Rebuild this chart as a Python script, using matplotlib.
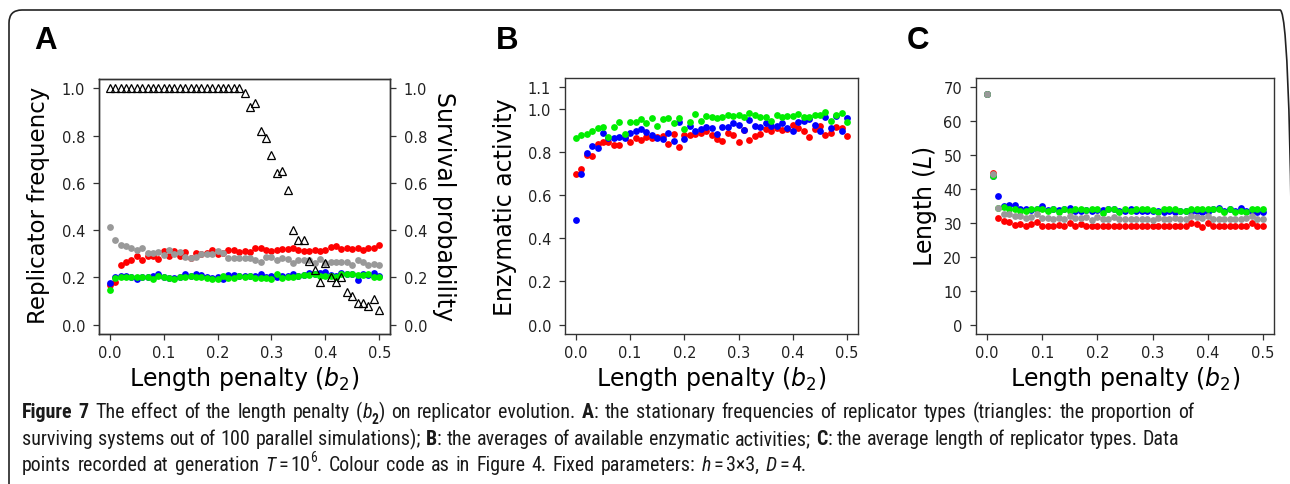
import re
import numpy as np
import matplotlib
matplotlib.use("Agg")
import matplotlib.pyplot as plt
from matplotlib import font_manager
from matplotlib.patches import FancyBboxPatch
from matplotlib.transforms import IdentityTransform
from matplotlib.font_manager import FontProperties

# ---------------- data ----------------
b2 = np.round(np.arange(51) * 0.01, 2)
xticks = [0.0, 0.1, 0.2, 0.3, 0.4, 0.5]

# Panel A: replicator frequencies
A_gray = [0.413, 0.358, 0.338, 0.331, 0.324, 0.316, 0.324, 0.304, 0.304, 0.307,
          0.293, 0.316, 0.300, 0.307, 0.286, 0.283, 0.288, 0.297, 0.297, 0.300,
          0.310, 0.302, 0.283, 0.283, 0.283, 0.283, 0.280, 0.275, 0.267, 0.286,
          0.288, 0.272, 0.282, 0.279, 0.259, 0.272, 0.272, 0.272, 0.262, 0.276,
          0.262, 0.264, 0.264, 0.264, 0.265, 0.251, 0.273, 0.265, 0.251, 0.255,
          0.254]
A_red = [0.168, 0.179, 0.254, 0.264, 0.275, 0.289, 0.275, 0.289, 0.292, 0.278,
         0.311, 0.290, 0.311, 0.289, 0.306, 0.283, 0.303, 0.297, 0.303, 0.316,
         0.297, 0.303, 0.316, 0.316, 0.306, 0.310, 0.308, 0.326, 0.326, 0.316,
         0.313, 0.316, 0.321, 0.319, 0.324, 0.316, 0.310, 0.310, 0.316, 0.310,
         0.316, 0.330, 0.333, 0.320, 0.324, 0.321, 0.326, 0.316, 0.323, 0.323,
         0.335]
A_blue = [0.178, 0.203, 0.207, 0.207, 0.202, 0.191, 0.202, 0.203, 0.207, 0.213,
          0.202, 0.196, 0.196, 0.200, 0.213, 0.207, 0.213, 0.209, 0.202, 0.196,
          0.200, 0.193, 0.209, 0.209, 0.207, 0.206, 0.206, 0.207, 0.213, 0.203,
          0.207, 0.202, 0.206, 0.207, 0.213, 0.207, 0.209, 0.219, 0.213, 0.219,
          0.224, 0.209, 0.206, 0.217, 0.213, 0.216, 0.189, 0.213, 0.209, 0.219,
          0.207]
A_green = [0.146, 0.196, 0.200, 0.200, 0.202, 0.200, 0.202, 0.202, 0.193, 0.206,
           0.200, 0.196, 0.193, 0.200, 0.200, 0.206, 0.203, 0.200, 0.196, 0.191,
           0.191, 0.206, 0.196, 0.196, 0.206, 0.200, 0.206, 0.196, 0.196, 0.196,
           0.193, 0.213, 0.196, 0.202, 0.202, 0.206, 0.209, 0.209, 0.213, 0.206,
           0.206, 0.206, 0.202, 0.213, 0.213, 0.216, 0.209, 0.209, 0.213, 0.202,
           0.203]
A_survival = [1.0] * 25 + [0.98, 0.92, 0.94, 0.82, 0.79, 0.72, 0.64, 0.65, 0.57,
                           0.40, 0.36, 0.36, 0.27, 0.23, 0.18, 0.26, 0.20, 0.18,
                           0.20, 0.14, 0.12, 0.09, 0.09, 0.08, 0.11, 0.06]

# Panel B: enzymatic activity
B_green = [0.867, 0.879, 0.884, 0.898, 0.910, 0.915, 0.868, 0.916, 0.940, 0.882,
           0.938, 0.938, 0.953, 0.936, 0.957, 0.921, 0.955, 0.960, 0.936, 0.958,
           0.909, 0.940, 0.977, 0.943, 0.967, 0.962, 0.957, 0.964, 0.972, 0.967,
           0.974, 0.963, 0.981, 0.971, 0.963, 0.964, 0.943, 0.974, 0.964, 0.967,
           0.969, 0.975, 0.964, 0.961, 0.974, 0.971, 0.984, 0.946, 0.972, 0.983,
           0.940]
B_blue = [0.485, 0.698, 0.797, 0.829, 0.819, 0.891, 0.864, 0.865, 0.870, 0.865,
          0.887, 0.896, 0.907, 0.895, 0.879, 0.864, 0.859, 0.887, 0.853, 0.938,
          0.860, 0.921, 0.896, 0.907, 0.915, 0.910, 0.884, 0.915, 0.915, 0.935,
          0.924, 0.905, 0.949, 0.921, 0.915, 0.933, 0.922, 0.919, 0.936, 0.910,
          0.899, 0.941, 0.944, 0.955, 0.926, 0.898, 0.964, 0.910, 0.967, 0.898,
          0.960]
B_red = [0.699, 0.721, 0.786, 0.781, 0.837, 0.848, 0.848, 0.833, 0.833, 0.871,
         0.848, 0.867, 0.854, 0.868, 0.865, 0.871, 0.877, 0.840, 0.882, 0.822,
         0.881, 0.879, 0.884, 0.888, 0.898, 0.880, 0.860, 0.851, 0.888, 0.881,
         0.848, 0.905, 0.854, 0.873, 0.882, 0.909, 0.899, 0.913, 0.905, 0.907,
         0.926, 0.913, 0.896, 0.871, 0.907, 0.919, 0.879, 0.891, 0.916, 0.910,
         0.876]

# Panel C: average length
C_gray = [68.2, 44.5, 34.4, 32.7, 32.6, 32.1, 31.9, 31.5, 31.8, 32.6,
          31.6, 31.5, 31.3, 31.6, 31.3, 32.1, 31.5, 31.5, 31.7, 30.9,
          31.8, 31.3, 31.3, 31.7, 31.1, 31.1, 31.1, 31.1, 31.1, 31.1,
          30.9, 31.6, 31.1, 31.3, 31.5, 31.3, 31.3, 32.1, 31.8, 31.5,
          32.1, 31.3, 31.1, 31.3, 31.1, 31.3, 31.3, 31.5, 32.1, 31.3,
          31.3]
C_red = [68.2, 44.8, 31.6, 30.5, 30.3, 29.4, 29.8, 29.2, 29.8, 30.3,
         29.2, 29.2, 29.2, 29.5, 29.2, 30.1, 29.2, 29.7, 29.2, 29.2,
         29.2, 29.2, 29.2, 29.2, 29.0, 29.0, 29.0, 29.0, 29.0, 29.0,
         29.2, 29.2, 29.0, 29.0, 29.0, 29.2, 29.2, 30.1, 29.8, 28.8,
         30.1, 29.2, 29.2, 29.2, 29.0, 29.0, 29.0, 29.0, 30.1, 29.0,
         29.0]
C_blue = [68.2, 44.0, 38.1, 35.0, 35.4, 35.2, 34.1, 34.1, 33.9, 34.1,
          35.0, 33.8, 34.1, 33.9, 34.1, 34.3, 33.6, 33.6, 33.9, 33.6,
          33.9, 33.8, 34.0, 34.1, 33.6, 33.6, 34.1, 33.6, 33.6, 33.6,
          33.6, 33.6, 33.3, 33.6, 33.3, 33.6, 33.6, 33.3, 33.6, 33.3,
          33.3, 34.1, 34.4, 33.6, 34.1, 33.6, 34.3, 33.6, 33.3, 33.3,
          33.3]
C_green = [68.2, 43.8, 34.5, 34.6, 34.2, 34.2, 33.6, 33.4, 34.1, 34.1,
           34.2, 33.4, 34.2, 33.3, 34.1, 33.4, 34.1, 34.1, 33.9, 34.1,
           34.1, 33.0, 34.1, 34.2, 33.1, 34.1, 33.4, 34.1, 34.1, 34.1,
           33.9, 33.1, 34.1, 34.1, 34.1, 33.4, 33.4, 34.1, 34.1, 34.1,
           34.1, 34.1, 34.2, 33.1, 34.1, 33.3, 33.4, 33.3, 34.1, 34.1,
           34.1]

A_yticks = [0.0, 0.2, 0.4, 0.6, 0.8, 1.0]
B_yticks = [0.0, 0.2, 0.4, 0.6, 0.8, 1.0, 1.1]
C_yticks = [0, 10, 20, 30, 40, 50, 60, 70]

# ---------------- figure ----------------
W, H = 1290, 485
fig = plt.figure(figsize=(W / 100, H / 100), dpi=100)

RED, BLUE, GREEN, GRAY = "#ff0000", "#0000ff", "#00ee00", "#999999"
AXC = "#333333"


def rect(l, t, r, b):
    return [l / W, 1 - b / H, (r - l) / W, (b - t) / H]


def style(ax, yticks, fmt):
    for s in ax.spines.values():
        s.set_color(AXC)
        s.set_linewidth(1.0)
    ax.set_xlim(-0.02, 0.52)
    ax.set_xticks(xticks)
    ax.set_xticklabels(["%.1f" % v for v in xticks])
    ax.set_yticks(yticks)
    ax.set_yticklabels([fmt % v for v in yticks])
    ax.tick_params(direction="out", length=4.5, width=0.9, color=AXC,
                   labelsize=10.5, labelcolor="#222222")
    ax.tick_params(axis="x", pad=3.5)
    ax.tick_params(axis="y", pad=5.5)


def dots(ax, y, c):
    ax.plot(b2, y, ls="none", marker="o", ms=4.9, mfc=c, mec=c, mew=0, zorder=3)


# Panel A
axA = fig.add_axes(rect(99, 80, 390, 335))
for y, c in [(A_red, RED), (A_blue, BLUE), (A_green, GREEN), (A_gray, GRAY)]:
    dots(axA, y, c)
axA.set_ylim(-0.04, 1.04)
style(axA, A_yticks, "%.1f")
axA2 = axA.twinx()
axA2.plot(b2, A_survival, ls="none", marker="^", ms=6.2, mfc="none",
          mec="black", mew=0.9, zorder=4)
axA2.set_ylim(-0.04, 1.04)
style(axA2, A_yticks, "%.1f")

# Panel B
axB = fig.add_axes(rect(565, 79, 858, 335))
for y, c in [(B_red, RED), (B_blue, BLUE), (B_green, GREEN)]:
    dots(axB, y, c)
axB.set_ylim(-0.044, 1.144)
style(axB, B_yticks, "%.1f")

# Panel C
axC = fig.add_axes(rect(976, 79, 1274, 335))
for y, c in [(C_red, RED), (C_blue, BLUE), (C_green, GREEN), (C_gray, GRAY)]:
    dots(axC, y, c)
axC.set_ylim(-2.8, 72.8)
style(axC, C_yticks, "%d")

LAB = 17


def ftext(x, y, s, **kw):
    return fig.text(x / W, 1 - y / H, s, **kw)


for cx in [(99 + 390) / 2, (565 + 858) / 2, (976 + 1274) / 2]:
    ftext(cx, 386, r"Length penalty ($\mathit{b}_2$)", ha="center", va="baseline",
          fontsize=LAB)
ftext(39, 205, "Replicator frequency", rotation=90, ha="center", va="center", fontsize=16.5)
ftext(444, 207, "Survival probability", rotation=270, ha="center", va="center", fontsize=LAB)
ftext(505, 207, "Enzymatic activity", rotation=90, ha="center", va="center", fontsize=LAB)
ftext(925, 207, r"Length ($\mathit{L}$)", rotation=90, ha="center", va="center", fontsize=LAB)

for lab, x in [("A", 46), ("B", 507), ("C", 918)]:
    ftext(x, 41, lab, ha="center", va="center", fontsize=22.5, fontweight="bold",
          family=["Liberation Sans", "DejaVu Sans"])

# frame (rounded box, running off the right and bottom edges)
frame = FancyBboxPatch((9, -60), 1293 - 9, H - 11 + 60,
                       boxstyle="round,pad=0,rounding_size=13",
                       transform=IdentityTransform(), fill=False,
                       edgecolor="#222222", linewidth=1.2)
fig.add_artist(frame)

# ---------------- caption font: prefer a condensed sans ----------------
entries = font_manager.fontManager.ttflist
names = {f.name for f in entries}
cap_family, cap_stretch = "Liberation Sans", "normal"
preferred = ["Liberation Sans Narrow", "Roboto Condensed", "Open Sans Condensed",
             "Noto Sans Condensed", "DejaVu Sans Condensed", "Arial Narrow"]
found = False
for p in preferred:
    if p in names:
        cap_family, cap_stretch = p, "normal"
        found = True
        break
if not found:
    for fam in ["Noto Sans", "Roboto", "Open Sans", "DejaVu Sans", "Liberation Sans"]:
        cond = [f for f in entries if f.name == fam and
                str(f.stretch) in ("condensed", "semi-condensed")]
        if cond:
            cap_family, cap_stretch = fam, str(cond[0].stretch)
            found = True
            break

renderer = fig.canvas.get_renderer()


def props(size, st):
    return FontProperties(family=[cap_family, "DejaVu Sans"], size=size,
                          stretch=cap_stretch,
                          weight="bold" if "b" in st else "normal",
                          style="italic" if "i" in st else "normal")


def tw(s, fp):
    w1 = renderer.get_text_width_height_descent("|" + s + "|", fp, ismath=False)[0]
    w0 = renderer.get_text_width_height_descent("||", fp, ismath=False)[0]
    return w1 - w0


def piece_size(size, st):
    if "sub" in st or "sup" in st:
        return size * 0.68
    return size


def layout(pieces, size, extra, x0=0.0, ybase=None):
    """Lay out one caption line; draws it if ybase is given. Returns end x."""
    x = x0
    for txt, st in pieces:
        if st == "gap":
            x += float(txt) * size / 14.0
            continue
        s = piece_size(size, st)
        dy = 0
        if "sub" in st:
            dy = -0.28 * size * 100 / 72
        if "sup" in st:
            dy = 0.45 * size * 100 / 72
        fp = props(s, st)
        for tok in re.split(r"( )", txt):
            if tok == "":
                continue
            if tok == " ":
                x += tw(" ", fp) + extra
                continue
            if ybase is not None:
                fig.text(x / W, 1 - (ybase - dy) / H, tok, fontproperties=fp,
                         ha="left", va="baseline", color="#1a1a1a")
            x += tw(tok, fp)
    return x


def n_spaces(pieces):
    return sum(t.count(" ") for t, st in pieces if st != "gap")


line1 = [("Figure 7", "b"), (" The effect of the length penalty (", ""), ("b", "i"),
         ("2", "sub"), (") on replicator evolution. ", ""), ("A", "b"),
         (": the stationary frequencies of replicator types (triangles: the proportion of", "")]
line2 = [("surviving systems out of 100 parallel simulations); ", ""), ("B", "b"),
         (": the averages of available enzymatic activities; ", ""), ("C", "b"),
         (": the average length of replicator types. Data", "")]
line3 = [("points recorded at generation ", ""), ("T", "i"), ("2.5", "gap"), ("=", ""),
         ("2.5", "gap"), ("10", ""), ("6", "sup"),
         (". Colour code as in Figure 4. Fixed parameters: ", ""), ("h", "i"),
         ("2.5", "gap"), ("=", ""), ("2.5", "gap"), ("3×3, ", ""), ("D", "i"),
         ("2.5", "gap"), ("=", ""), ("2.5", "gap"), ("4.", "")]

X0 = 22
targets = [(line1, 1275, 418), (line2, 1179, 445), (line3, 873, 471)]
base = 14.0
fit = min((t - X0) / layout(p, base, 0.0) for p, t, _ in targets)
cap_size = base * fit
for p, t, yb in targets:
    natural = layout(p, cap_size, 0.0, X0)
    extra = (t - natural) / max(n_spaces(p), 1)
    extra = max(min(extra, 1.6), -0.5)
    layout(p, cap_size, extra, X0, yb)

fig.savefig("out.png", dpi=100)
